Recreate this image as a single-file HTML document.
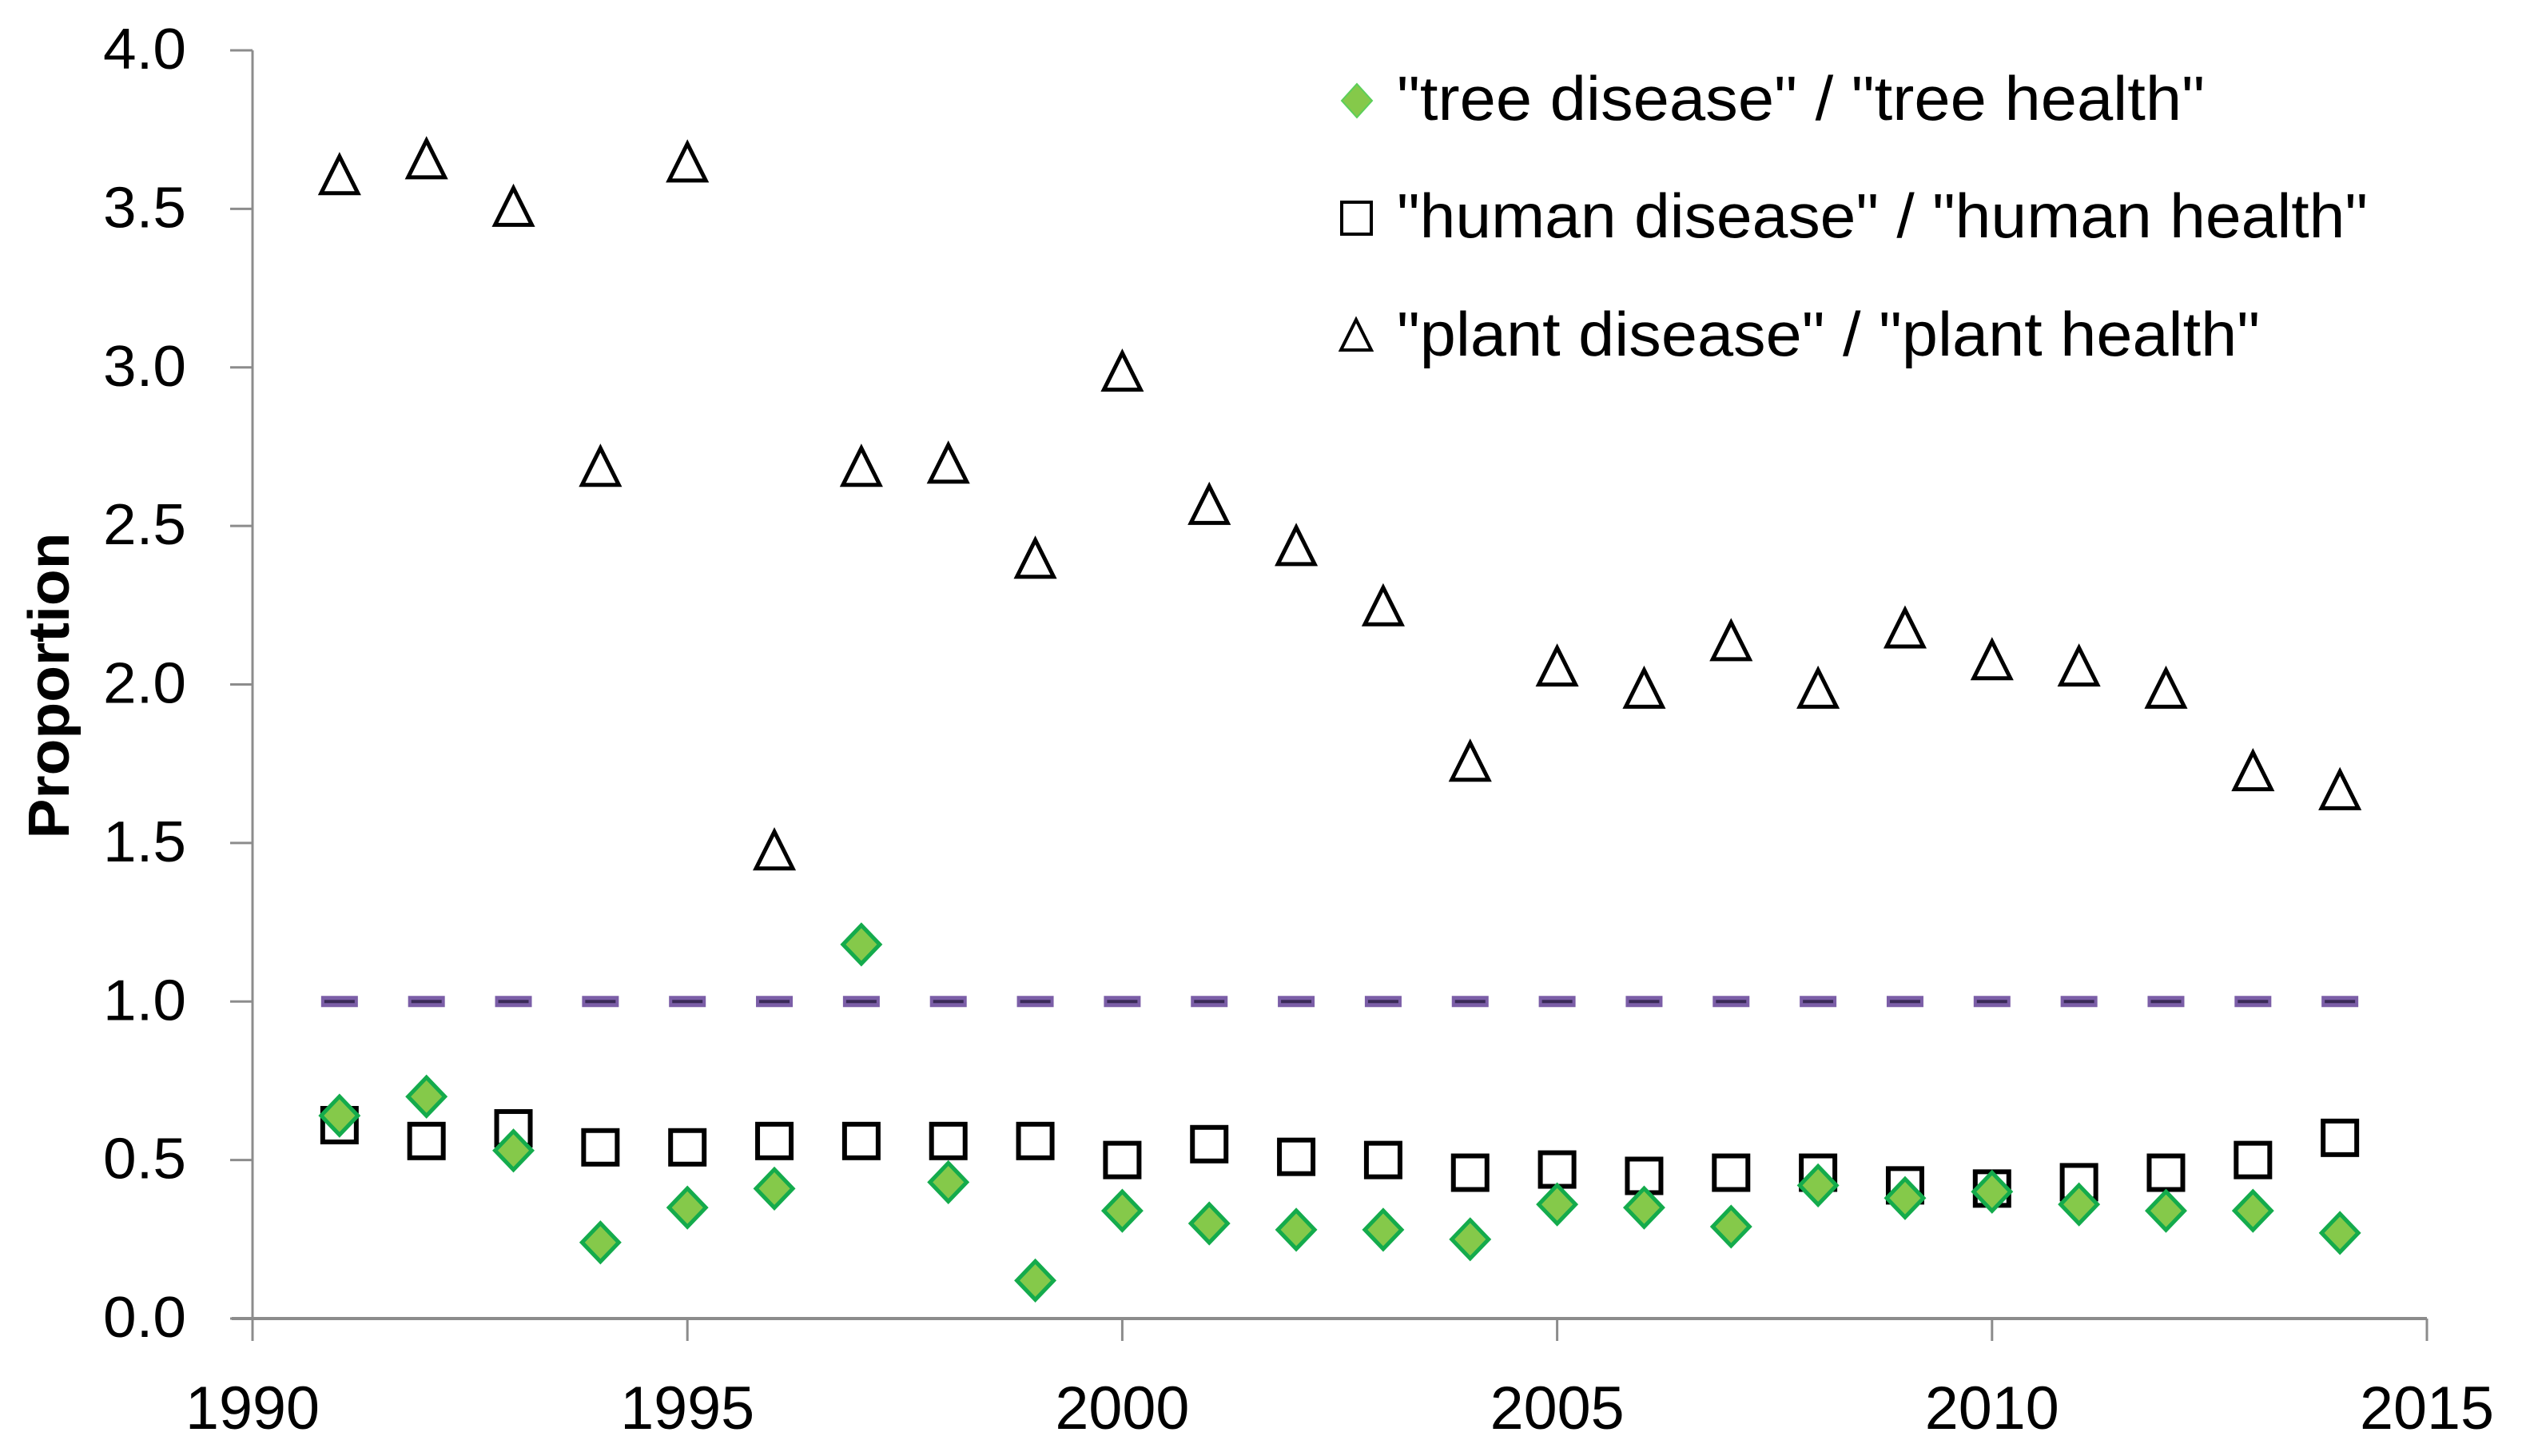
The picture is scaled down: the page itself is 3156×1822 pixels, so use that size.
<!DOCTYPE html>
<html><head><meta charset="utf-8"><style>
html,body{margin:0;padding:0;background:#fff;}
svg{display:block;}
text{font-family:"Liberation Sans",sans-serif;fill:#000;}
</style></head><body>
<svg id="chart" width="3156" height="1822" viewBox="0 0 3156 1822" xmlns="http://www.w3.org/2000/svg">
<g id="axes"></g>
<g id="refline"></g>
<g id="marks"></g>
<g id="legend"></g>
<text transform="translate(86,858) rotate(-90)" text-anchor="middle" font-size="72" font-weight="bold" textLength="383" lengthAdjust="spacingAndGlyphs">Proportion</text>
</svg>
<script>
const years = [1991,1992,1993,1994,1995,1996,1997,1998,1999,2000,2001,2002,2003,2004,2005,2006,2007,2008,2009,2010,2011,2012,2013,2014];
const treeValues = [0.64,0.70,0.53,0.24,0.35,0.41,1.18,0.43,0.12,0.34,0.30,0.28,0.28,0.25,0.36,0.35,0.29,0.42,0.38,0.40,0.36,0.34,0.34,0.27];
const humanValues = [0.61,0.56,0.60,0.54,0.54,0.56,0.56,0.56,0.56,0.50,0.55,0.51,0.50,0.46,0.47,0.45,0.46,0.46,0.42,0.41,0.43,0.46,0.50,0.57];
const plantValues = [3.60,3.65,3.50,2.68,3.64,1.47,2.68,2.69,2.39,2.98,2.56,2.43,2.24,1.75,2.05,1.98,2.13,1.98,2.17,2.07,2.05,1.98,1.72,1.66];
const yTicks = [0,0.5,1,1.5,2,2.5,3,3.5,4];
const yTickLabels = ["0.0","0.5","1.0","1.5","2.0","2.5","3.0","3.5","4.0"];
const xTicks = [1990,1995,2000,2005,2010,2015];
const xTickLabels = ["1990","1995","2000","2005","2010","2015"];
const refValue = 1.0;
const legendLabels = ['"tree disease" / "tree health"','"human disease" / "human health"','"plant disease" / "plant health"'];

const NS = "http://www.w3.org/2000/svg";
const X0=316, X1=3037, Y0=1650, Y1=63;
function xs(v){return X0+(v-1990)/25*(X1-X0);}
function ys(v){return Y0-(v/4)*(Y0-Y1);}
function mk(tag,attrs,parent){const e=document.createElementNS(NS,tag);for(const k in attrs)e.setAttribute(k,attrs[k]);parent.appendChild(e);return e;}

const axes=document.getElementById('axes');
let a=mk('line',{x1:X0,y1:Y1,x2:X0,y2:Y0,stroke:'#8c8c8c','stroke-width':3},axes);


a=mk('line',{x1:X0-26,y1:Y0,x2:X1,y2:Y0,stroke:'#8c8c8c','stroke-width':4},axes);


yTicks.forEach((t,i)=>{
  const tk=mk('line',{x1:X0-28,y1:ys(t),x2:X0,y2:ys(t),stroke:'#8c8c8c','stroke-width':3},axes);
  
  
  const tx=mk('text',{x:233,y:ys(t)+23,'text-anchor':'end','font-size':72,textLength:104,lengthAdjust:'spacingAndGlyphs'},axes);
  tx.textContent=yTickLabels[i];
  
  
});
xTicks.forEach((t,i)=>{
  const tk=mk('line',{x1:xs(t),y1:Y0,x2:xs(t),y2:Y0+28,stroke:'#8c8c8c','stroke-width':3},axes);
  
  
  const tx=mk('text',{x:xs(t),y:1788,'text-anchor':'middle','font-size':76,textLength:168,lengthAdjust:'spacingAndGlyphs'},axes);
  tx.textContent=xTickLabels[i];
  
  
});

const ref=document.getElementById('refline');
years.forEach(yr=>{
  const x=xs(yr), y=ys(refValue);
  const d=mk('line',{x1:x-23,y1:y,x2:x+23,y2:y,stroke:'#7b5ea7','stroke-width':14,'stroke-linecap':'butt'},ref);
  
  
  const c=mk('line',{x1:x-19,y1:y,x2:x+19,y2:y,stroke:'#3a2a58','stroke-width':4},ref);
  
  
});

const marks=document.getElementById('marks');
function tri(x,y,g){return mk('polygon',{points:`${x},${y-26} ${x-23},${y+20} ${x+23},${y+20}`,fill:'none',stroke:'#000','stroke-width':5},g);}
function sq(x,y,g){return mk('rect',{x:x-21,y:y-21,width:42,height:42,fill:'none',stroke:'#000','stroke-width':6},g);}
function dia(x,y,g){return mk('polygon',{points:`${x},${y-24} ${x+23},${y} ${x},${y+24} ${x-23},${y}`,fill:'#85c94a',stroke:'#14ab4c','stroke-width':5},g);}
years.forEach((yr,i)=>{
  const p=tri(xs(yr),ys(plantValues[i]),marks);
  
  
});
years.forEach((yr,i)=>{
  const p=sq(xs(yr),ys(humanValues[i]),marks);
  
  
});
years.forEach((yr,i)=>{
  const p=dia(xs(yr),ys(treeValues[i]),marks);
  
  
});

const leg=document.getElementById('legend');
const rowBase=[150,297,445];
const widths=[1011,1215,1080];
let m=mk('polygon',{points:'1698,105 1717,126 1698,147 1679,126',fill:'#85c94a',stroke:'#5ccf5a','stroke-width':2},leg);


m=mk('rect',{x:1679,y:253,width:37,height:40,fill:'none',stroke:'#000','stroke-width':4},leg);


m=mk('polygon',{points:'1697,400 1678,438 1716,438',fill:'none',stroke:'#000','stroke-width':4},leg);


legendLabels.forEach((l,i)=>{
  const t=mk('text',{x:1748,y:rowBase[i],'font-size':78,textLength:widths[i],lengthAdjust:'spacingAndGlyphs'},leg);
  t.textContent=l;
  
  
});
</script>
</body></html>
